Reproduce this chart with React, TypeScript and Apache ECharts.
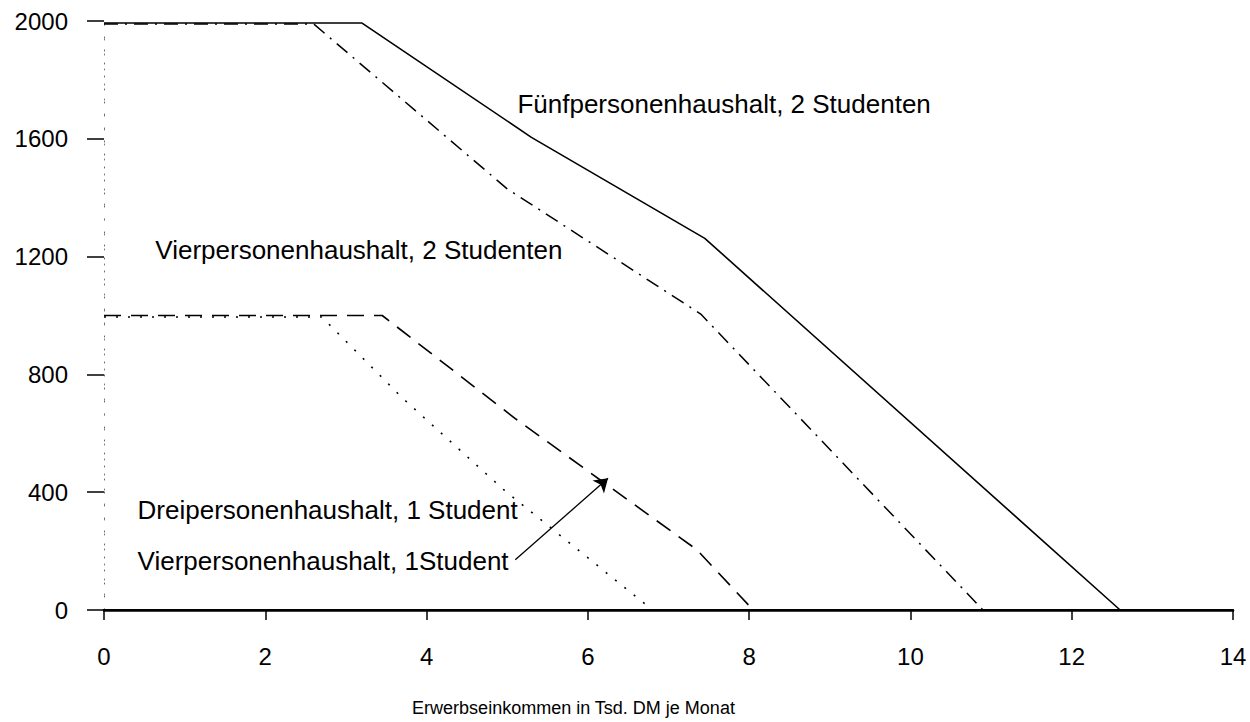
import React, { useEffect, useRef } from "react";
import * as echarts from "echarts";

// Erwerbseinkommen (Tsd. DM je Monat) vs. Förderbetrag
const xFuenf2 = [0, 3.2, 5.3, 7.45, 12.6, 14];
const yFuenf2 = [1993, 1993, 1605, 1262, 0, 0];

const xVier2 = [0, 2.6, 5.0, 7.4, 10.9];
const yVier2 = [1990, 1990, 1430, 1005, 0];

const xVier1 = [0, 3.45, 5.1, 7.35, 8.05];
const yVier1 = [1000, 1000, 650, 205, 0];

const xDrei1 = [0, 2.7, 3.7, 4.95, 6.8];
const yDrei1 = [995, 995, 720, 410, 0];

const xTickValues = [0, 2, 4, 6, 8, 10, 12, 14];
const yTickValues = [0, 400, 800, 1200, 1600, 2000];

const labelNames = [
  "Fünfpersonenhaushalt, 2 Studenten",
  "Vierpersonenhaushalt, 2 Studenten",
  "Dreipersonenhaushalt, 1 Student",
  "Vierpersonenhaushalt, 1Student",
];
const labelX = [5.12, 0.63, 0.41, 0.41];
const labelY = [1717, 1223, 339, 165];

const arrowFrom = [5.1, 171];
const arrowTo = [6.25, 447];

const axisTitle = "Erwerbseinkommen in Tsd. DM je Monat";

const FONT = '"Liberation Sans", Arial, Helvetica, sans-serif';

const pairs = (xs: number[], ys: number[]) => xs.map((x, i) => [x, ys[i]]);

export default function App() {
  const ref = useRef<HTMLDivElement>(null);

  useEffect(() => {
    if (!ref.current) return;
    const chart = echarts.init(ref.current, undefined, { renderer: "svg" });
    const lineBase = { type: "line", symbol: "none", silent: true, z: 3 };
    chart.setOption({
      animation: false,
      backgroundColor: "#ffffff",
      textStyle: { fontFamily: FONT, color: "#000" },
      grid: { left: 104, right: 17, top: 21, bottom: 106 },
      xAxis: [
        {
          type: "value",
          min: 0,
          max: 14,
          interval: 2,
          position: "bottom",
          axisLine: { show: true, onZero: false, lineStyle: { color: "#000", width: 2.5 } },
          axisTick: { show: true, inside: false, length: 10, lineStyle: { color: "#000", width: 1.5 } },
          axisLabel: {
            show: true,
            margin: 34,
            fontSize: 24,
            color: "#000",
            fontFamily: FONT,
            customValues: xTickValues,
            formatter: (v: number) => String(v),
          },
          splitLine: { show: false },
          name: axisTitle,
          nameLocation: "middle",
          nameGap: 89,
          nameTextStyle: { fontSize: 18, color: "#000", fontFamily: FONT, padding: [0, 190, 0, 0] },
        },
        {
          type: "value",
          min: 0,
          max: 14,
          position: "top",
          axisLine: { show: true, lineStyle: { color: "#000", width: 2 } },
          axisTick: { show: false },
          axisLabel: { show: false },
          splitLine: { show: false },
        },
      ],
      yAxis: [
        {
          type: "value",
          min: 0,
          max: 2000,
          interval: 400,
          position: "left",
          axisLine: { show: true, onZero: false, lineStyle: { color: "#666", width: 1, type: [1, 12] } },
          axisTick: { show: true, inside: false, length: 17, lineStyle: { color: "#000", width: 1.5 } },
          axisLabel: {
            show: true,
            margin: 36,
            fontSize: 24,
            color: "#000",
            fontFamily: FONT,
            customValues: yTickValues,
            formatter: (v: number) => String(v),
          },
          splitLine: { show: false },
        },
        {
          type: "value",
          min: 0,
          max: 2000,
          position: "right",
          axisLine: { show: true, lineStyle: { color: "#777", width: 1, type: [1, 14] } },
          axisTick: { show: false },
          axisLabel: { show: false },
          splitLine: { show: false },
        },
      ],
      series: [
        {
          ...lineBase,
          name: "Fünfpersonenhaushalt, 2 Studenten",
          data: pairs(xFuenf2, yFuenf2),
          lineStyle: { color: "#000", width: 1.6, type: "solid" },
        },
        {
          ...lineBase,
          name: "Vierpersonenhaushalt, 2 Studenten",
          data: pairs(xVier2, yVier2),
          lineStyle: { color: "#000", width: 1.5, type: [14, 7, 2, 7] },
        },
        {
          ...lineBase,
          name: "Vierpersonenhaushalt, 1 Student",
          data: pairs(xVier1, yVier1),
          lineStyle: { color: "#000", width: 1.6, type: [17, 10] },
        },
        {
          ...lineBase,
          name: "Dreipersonenhaushalt, 1 Student",
          data: pairs(xDrei1, yDrei1),
          lineStyle: { color: "#000", width: 1.6, type: [2, 10] },
        },
        {
          type: "lines",
          coordinateSystem: "cartesian2d",
          silent: true,
          z: 6,
          symbol: ["none", "arrow"],
          symbolSize: 13,
          lineStyle: { color: "#000", width: 1.3, type: "solid", opacity: 1 },
          itemStyle: { color: "#000" },
          data: [{ coords: [arrowFrom, arrowTo] }],
        },
        {
          type: "scatter",
          silent: true,
          symbolSize: 1,
          itemStyle: { color: "rgba(0,0,0,0)", opacity: 1 },
          z: 5,
          data: labelNames.map((n, i) => ({ name: n, value: [labelX[i], labelY[i]] })),
          label: {
            show: true,
            position: "right",
            distance: 0,
            formatter: (p: any) => p.name,
            fontSize: 26,
            color: "#000",
            opacity: 1,
            fontFamily: FONT,
          },
        },
      ],
    });
    return () => chart.dispose();
  }, []);

  return (
    <div
      ref={ref}
      style={{ position: "absolute", left: 0, top: 0, width: 1250, height: 722, background: "#fff" }}
    />
  );
}
